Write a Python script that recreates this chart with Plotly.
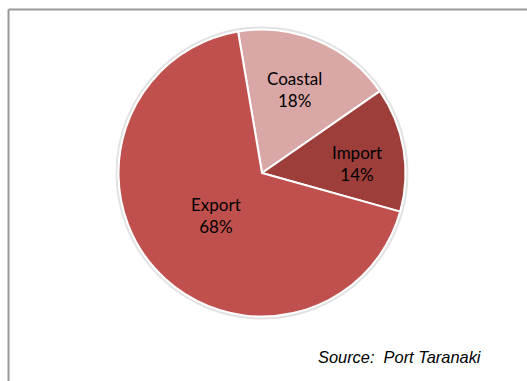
import math
import plotly.graph_objects as go

# Cargo share by trade type
categories = ["Coastal", "Import", "Export"]
shares = [18, 14, 68]
slice_colors = ["#D9A7A6", "#9E3E3B", "#C0504D"]

W, H = 527, 381
cx, cy, r = 262, 173, 143.5
start_angle = -9.6          # degrees clockwise from 12 o'clock
label_radius = [0.63, 0.67, 0.43]  # label distance from centre, as a fraction of the radius
label_nudge = [(-3, 0), (0, -7), (0, -1)]  # small pixel tweaks (x right, y down)

fig = go.Figure(
    go.Pie(
        labels=categories,
        values=shares,
        sort=False,
        direction="clockwise",
        rotation=start_angle,
        marker=dict(colors=slice_colors, line=dict(color="white", width=2)),
        textinfo="none",
        hoverinfo="label+percent",
        showlegend=False,
        domain=dict(x=[(cx - r) / W, (cx + r) / W], y=[1 - (cy + r) / H, 1 - (cy - r) / H]),
    )
)

# slice labels placed along each slice's mid-angle
annotations = []
total = sum(shares)
acc = 0.0
for name, val, fr, (nx, ny) in zip(categories, shares, label_radius, label_nudge):
    mid = start_angle + 360.0 * (acc + val / 2) / total
    acc += val
    a = math.radians(mid)
    px = cx + fr * r * math.sin(a)
    py = cy - fr * r * math.cos(a)
    annotations.append(dict(
        text=f"{name}<br>{round(100 * val / total)}%",
        xref="paper", yref="paper", x=px / W, y=1 - py / H,
        xshift=nx, yshift=ny,
        xanchor="center", yanchor="middle", showarrow=False, align="center",
        font=dict(family="Lato, 'Open Sans', sans-serif", size=17, color="black"),
    ))

annotations.append(dict(
    text="<i>Source:\u00a0\u00a0Port Taranaki</i>", xref="paper", yref="paper",
    x=484 / W, y=1 - 357 / H, xanchor="right", yanchor="middle", showarrow=False,
    font=dict(family="Liberation Sans, Arial, sans-serif", size=16.4, color="black"),
))

shapes = [
    # soft halo around the pie
    dict(type="circle", xref="paper", yref="paper", layer="below",
         x0=(cx - r - 2) / W, x1=(cx + r + 2) / W,
         y0=1 - (cy + r + 2) / H, y1=1 - (cy - r - 2) / H,
         line=dict(color="#E2E2E2", width=2), fillcolor="#EEEEEE"),
    # chart frame (top and left edges)
    dict(type="line", xref="paper", yref="paper", x0=8.5 / W, x1=1.02, y0=1 - 9.5 / H, y1=1 - 9.5 / H,
         line=dict(color="#999999", width=2)),
    dict(type="line", xref="paper", yref="paper", x0=8.5 / W, x1=8.5 / W, y0=1 - 9.5 / H, y1=-0.02,
         line=dict(color="#999999", width=2)),
]

fig.update_layout(
    width=W, height=H,
    margin=dict(l=0, r=0, t=0, b=0),
    paper_bgcolor="white",
    plot_bgcolor="white",
    shapes=shapes,
    annotations=annotations,
)

fig.write_html("out.html")
